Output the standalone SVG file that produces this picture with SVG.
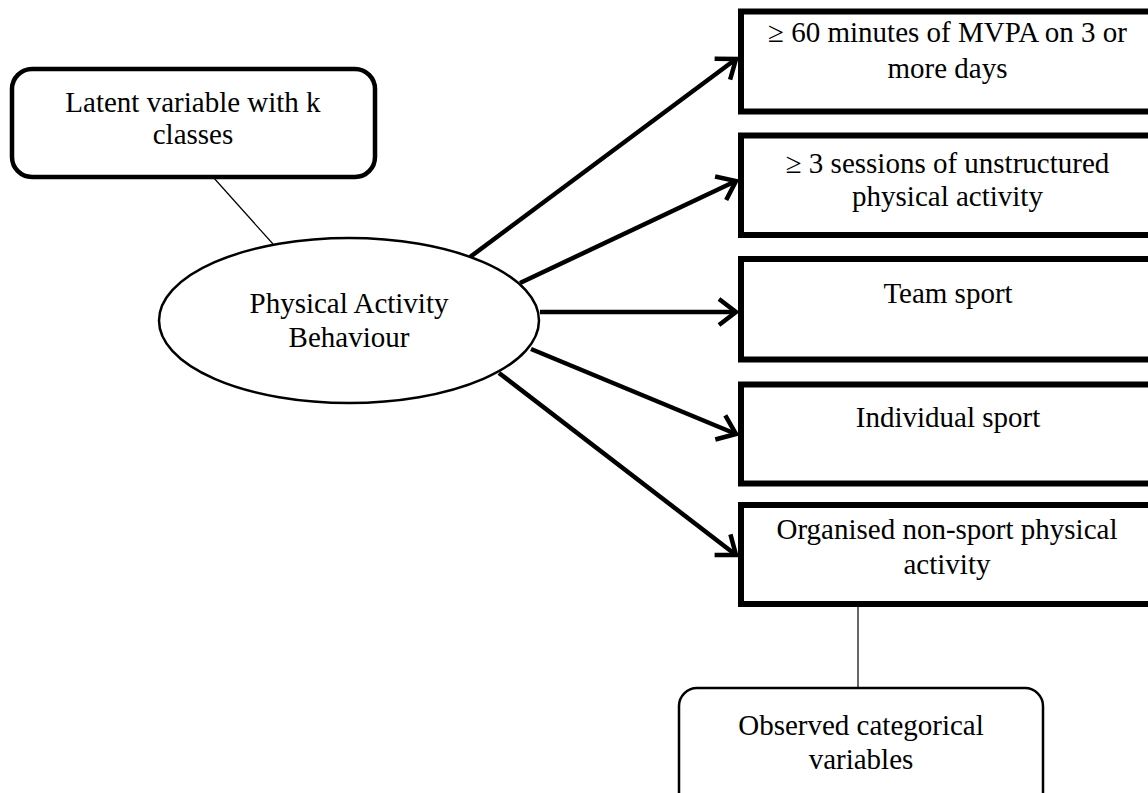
<svg xmlns="http://www.w3.org/2000/svg" width="1148" height="793" viewBox="0 0 1148 793">
  <style>
    text { font-family: "Liberation Serif", "Times New Roman", serif; font-size: 29px; fill: #000; text-anchor: middle; }
    .obs { fill: #fff; stroke: #000; stroke-width: 6; }
    .arrow { stroke: #000; stroke-width: 4.5; fill: none; }
    .thin { stroke: #000; stroke-width: 1.2; fill: none; }
  </style>
  <defs>
    <marker id="vhead" viewBox="-22 -16 26 32" refX="0" refY="0" markerWidth="26" markerHeight="32" markerUnits="userSpaceOnUse" orient="auto" overflow="visible">
      <path d="M-17,-13 L0,0 L-17,13" fill="none" stroke="#000" stroke-width="4.5" stroke-linejoin="miter"/>
    </marker>
  </defs>
  <rect width="1148" height="793" fill="#fff"/>

  <g id="connectors">
    <line class="thin" x1="213" y1="177" x2="273" y2="244"/>
    <line class="thin" x1="858" y1="606" x2="858" y2="688"/>
    <line class="arrow" x1="470" y1="257" x2="736" y2="59" marker-end="url(#vhead)"/>
    <line class="arrow" x1="520" y1="283" x2="736" y2="181" marker-end="url(#vhead)"/>
    <line class="arrow" x1="540" y1="312" x2="736" y2="312" marker-end="url(#vhead)"/>
    <line class="arrow" x1="531" y1="349" x2="736" y2="434" marker-end="url(#vhead)"/>
    <line class="arrow" x1="499" y1="373" x2="736" y2="555" marker-end="url(#vhead)"/>
  </g>

  <g id="latent">
    <rect x="12" y="69" width="363" height="108" rx="20" ry="20" fill="#fff" stroke="#000" stroke-width="4.5"/>
    <text x="193" y="112">Latent variable with k</text>
    <text x="193" y="144">classes</text>
  </g>

  <g id="pab">
    <ellipse cx="349" cy="320.5" rx="190" ry="82.5" fill="#fff" stroke="#000" stroke-width="2.5"/>
    <text x="349" y="313">Physical Activity</text>
    <text x="349" y="347">Behaviour</text>
  </g>

  <g id="mvpa">
    <rect class="obs" x="741" y="11.5" width="420" height="100"/>
    <text x="947.5" y="42">≥ 60 minutes of MVPA on 3 or</text>
    <text x="947.5" y="78">more days</text>
  </g>

  <g id="unstructured">
    <rect class="obs" x="741" y="135.5" width="420" height="99.5"/>
    <text x="947.5" y="173">≥ 3 sessions of unstructured</text>
    <text x="947.5" y="206">physical activity</text>
  </g>

  <g id="team">
    <rect class="obs" x="741" y="259" width="420" height="100.5"/>
    <text x="948" y="303">Team sport</text>
  </g>

  <g id="individual">
    <rect class="obs" x="741" y="384.5" width="420" height="99"/>
    <text x="948" y="427">Individual sport</text>
  </g>

  <g id="organised">
    <rect class="obs" x="741" y="505" width="420" height="99"/>
    <text x="947" y="539">Organised non-sport physical</text>
    <text x="947" y="574">activity</text>
  </g>

  <g id="observed">
    <rect x="679" y="688" width="364" height="125" rx="18" ry="18" fill="#fff" stroke="#000" stroke-width="2.5"/>
    <text x="861" y="735">Observed categorical</text>
    <text x="861" y="769">variables</text>
  </g>
</svg>
